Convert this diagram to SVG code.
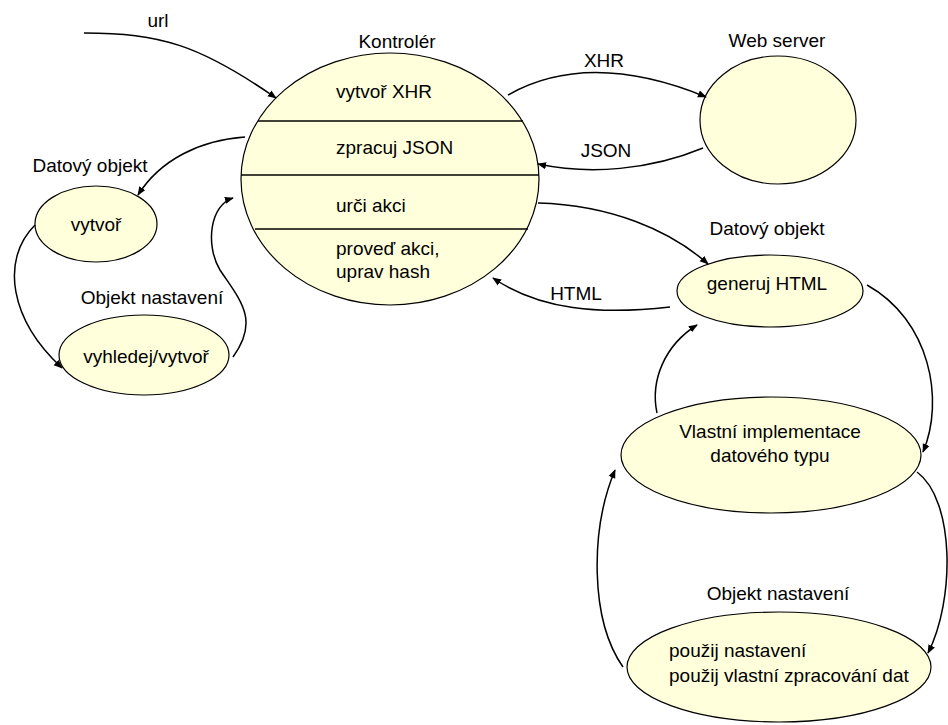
<svg xmlns="http://www.w3.org/2000/svg" width="948" height="725" viewBox="0 0 948 725">
  <style>
    .node { fill: #ffffdc; stroke: #000; stroke-width: 1.2; }
    .sep { stroke: #000; stroke-width: 1.5; }
    .edge { fill: none; stroke: #000; stroke-width: 1.5; marker-end: url(#arrow); }
    text { font-family: "Liberation Sans", Arial, sans-serif; font-size: 19px; fill: #000; }
    .c { text-anchor: middle; }
  </style>
  <defs>
    <marker id="arrow" viewBox="0 0 10 10" refX="9" refY="5" markerWidth="9" markerHeight="9" markerUnits="userSpaceOnUse" orient="auto">
      <path d="M0,1 L10,5 L0,9 Z" fill="#000"/>
    </marker>
  </defs>
  <rect width="948" height="725" fill="#fff"/>

  <!-- Controller with its four steps -->
  <g id="kontroler">
    <ellipse class="node" cx="390" cy="179" rx="149" ry="126"/>
    <line class="sep" x1="258" y1="121" x2="523" y2="121"/>
    <line class="sep" x1="241" y1="175" x2="539" y2="175"/>
    <line class="sep" x1="255" y1="229" x2="528" y2="229"/>
    <text x="397" y="48" class="c">Kontrolér</text>
    <text x="336" y="98">vytvoř XHR</text>
    <text x="336" y="154">zpracuj JSON</text>
    <text x="336" y="212">urči akci</text>
    <text x="336" y="255">proveď akci,</text>
    <text x="336" y="278">uprav hash</text>
  </g>

  <g id="web-server">
    <ellipse class="node" cx="778" cy="120" rx="78" ry="64"/>
    <text x="777" y="47" class="c">Web server</text>
  </g>

  <g id="datovy-objekt-1">
    <ellipse class="node" cx="96" cy="224" rx="61" ry="38"/>
    <text x="90" y="172" class="c">Datový objekt</text>
    <text x="96" y="231" class="c">vytvoř</text>
  </g>

  <g id="objekt-nastaveni-1">
    <ellipse class="node" cx="144" cy="355" rx="85" ry="40"/>
    <text x="152" y="304" class="c">Objekt nastavení</text>
    <text x="146" y="363" class="c">vyhledej/vytvoř</text>
  </g>

  <g id="datovy-objekt-2">
    <ellipse class="node" cx="770" cy="291" rx="93" ry="36"/>
    <text x="767" y="235" class="c">Datový objekt</text>
    <text x="767" y="290" class="c">generuj HTML</text>
  </g>

  <g id="vlastni-implementace">
    <ellipse class="node" cx="771" cy="455" rx="150" ry="58"/>
    <text x="770" y="438" class="c">Vlastní implementace</text>
    <text x="770" y="462" class="c">datového typu</text>
  </g>

  <g id="objekt-nastaveni-2">
    <ellipse class="node" cx="779" cy="667" rx="152" ry="55"/>
    <text x="778" y="600" class="c">Objekt nastavení</text>
    <text x="669" y="657">použij nastavení</text>
    <text x="669" y="682">použij vlastní zpracování dat</text>
  </g>

  <g id="connectors">
    <path class="edge" d="M84,33 C160,33 200,45 276,98"/>
    <text x="158" y="27" class="c">url</text>

    <path class="edge" d="M508,95 C570,60 640,70 706,97"/>
    <text x="604" y="67" class="c">XHR</text>

    <path class="edge" d="M703,148 C650,170 590,175 538,164"/>
    <text x="606" y="157" class="c">JSON</text>

    <path class="edge" d="M245,137 C200,140 160,160 138,195"/>

    <path class="edge" d="M35,225 C0,260 10,320 62,368"/>

    <path class="edge" d="M233,357 C260,320 240,300 220,270 C205,245 210,205 233,198"/>

    <path class="edge" d="M538,203 C610,205 670,230 708,264"/>

    <path class="edge" d="M670,307 C600,315 540,310 493,278"/>
    <text x="576" y="300" class="c">HTML</text>

    <path class="edge" d="M867,285 C930,320 945,400 923,452"/>

    <path class="edge" d="M657,413 C650,380 665,345 697,325"/>

    <path class="edge" d="M917,472 C955,500 955,600 928,653"/>

    <path class="edge" d="M623,667 C590,620 590,530 615,470"/>
  </g>
</svg>
